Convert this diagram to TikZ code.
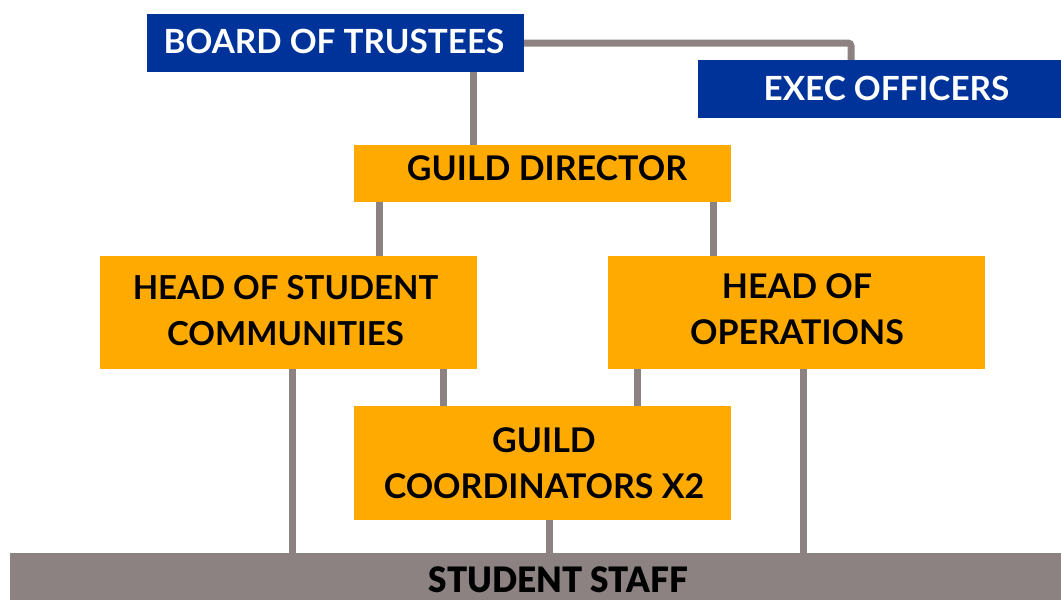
\documentclass[tikz,border=0pt]{standalone}
\usepackage{fontspec}
\setmainfont{Lato}
\usetikzlibrary{calc}
\definecolor{navy}{RGB}{0,51,153}
\definecolor{amber}{RGB}{255,170,0}
\definecolor{taupe}{RGB}{140,130,130}
\begin{document}
\begin{tikzpicture}[x=1pt,y=-1pt,
  bluebox/.style={fill=navy,inner sep=0pt},
  orangebox/.style={fill=amber,inner sep=0pt},
  bluetext/.style={text=white,font=\fontsize{33.3}{38}\selectfont\bfseries,inner sep=0pt},
  orangetext/.style={text=black,font=\fontsize{34}{46}\selectfont\bfseries,inner sep=0pt,align=center},
  link/.style={draw=taupe,line width=7pt}]
\useasboundingbox (0,0) rectangle (1061,600);
\begin{scope}
\clip (0,0) rectangle (1061,600);
% boxes
\node[bluebox,minimum width=377pt,minimum height=58pt] (board) at (335.5,43) {};
\node[bluetext] (boardt) at (334,41) {BOARD OF TRUSTEES};
\node[bluebox,minimum width=363pt,minimum height=58pt] (exec) at (879.5,89) {};
\node[bluetext] (exect) at (886.5,88) {EXEC OFFICERS};
\node[orangebox,minimum width=377pt,minimum height=57pt] (gd) at (542.5,173.5) {};
\node[orangetext] (gdt) at (547,168.5) {GUILD DIRECTOR};
\node[orangebox,minimum width=377pt,minimum height=113pt] (hsc) at (288.5,312.5) {};
\node[orangetext,font=\fontsize{33}{46}\selectfont\bfseries] (hsct) at (285.5,311) {HEAD OF STUDENT\\COMMUNITIES};
\node[orangebox,minimum width=377pt,minimum height=113pt] (ho) at (796.5,312.5) {};
\node[orangetext] (hot) at (797,309) {HEAD OF\\OPERATIONS};
\node[orangebox,minimum width=377pt,minimum height=114pt] (gc) at (542.5,463) {};
\node[orangetext] (gct) at (544,463) {GUILD\\COORDINATORS X2};
\node[fill=taupe,minimum width=1061pt,minimum height=47pt,inner sep=0pt] (staff) at (540.5,576.5) {};
\node[text=black,inner sep=0pt] (stafft) at (558.5,579.5) {\scalebox{0.95}[1]{\fontsize{35}{38}\selectfont\fontspec{Lato Black}STUDENT STAFF}};
% connectors
\coordinate (ex) at ([xshift=-28.5pt]exec.north);
\draw[link,rounded corners=3pt] (board.east) -| (ex);
\coordinate (b1) at ([xshift=-69.5pt]gd.north);
\draw[link] (b1 |- board.south) -- (b1);
\coordinate (g1) at ([xshift=-163.5pt]gd.south);
\coordinate (g2) at ([xshift=170.5pt]gd.south);
\draw[link] (g1) -- (g1 |- hsc.north);
\draw[link] (g2) -- (g2 |- ho.north);
\coordinate (h1) at ([xshift=3.5pt]hsc.south);
\coordinate (h2) at ([xshift=154.5pt]hsc.south);
\coordinate (o1) at ([xshift=-159.5pt]ho.south);
\coordinate (o2) at ([xshift=6.5pt]ho.south);
\draw[link] (h1) -- (h1 |- staff.north);
\draw[link] (h2) -- (h2 |- gc.north);
\draw[link] (o1) -- (o1 |- gc.north);
\draw[link] (o2) -- (o2 |- staff.north);
\coordinate (c1) at ([xshift=6.5pt]gc.south);
\draw[link] (c1) -- (c1 |- staff.north);
\end{scope}
\end{tikzpicture}
\end{document}
